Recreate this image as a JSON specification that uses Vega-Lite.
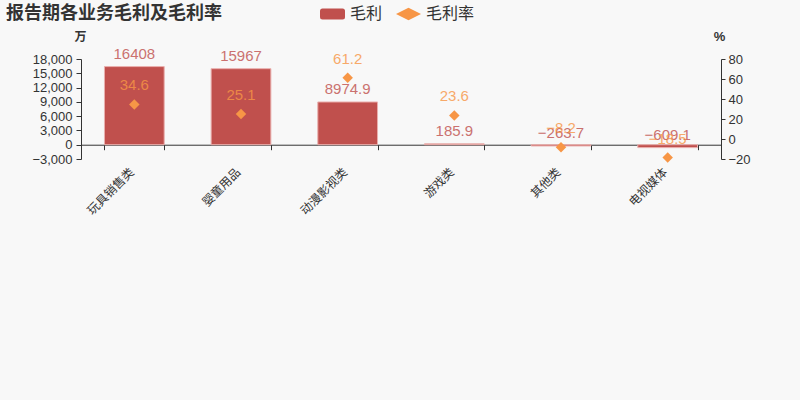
{
  "$schema": "https://vega.github.io/schema/vega-lite/v6.json",
  "autosize": "none",
  "width": 640,
  "height": 100,
  "padding": {"left": 81, "top": 59, "right": 79, "bottom": 241},
  "background": "#f8f8f8",
  "config": {
    "font": "Liberation Sans, Noto Sans CJK SC, sans-serif",
    "view": {"stroke": null}
  },
  "title": {
    "text": "报告期各业务毛利及毛利率",
    "anchor": "start",
    "dx": -26,
    "offset": -21,
    "fontSize": 18,
    "fontWeight": "bold",
    "color": "#333333"
  },
  "data": {
    "values": [
      {"业务": "玩具销售类", "毛利": 16408, "毛利率": 34.6},
      {"业务": "婴童用品", "毛利": 15967, "毛利率": 25.1},
      {"业务": "动漫影视类", "毛利": 8974.9, "毛利率": 61.2},
      {"业务": "游戏类", "毛利": 185.9, "毛利率": 23.6},
      {"业务": "其他类", "毛利": -263.7, "毛利率": -8.2},
      {"业务": "电视媒体", "毛利": -609.1, "毛利率": -18.5}
    ]
  },
  "encoding": {
    "x": {
      "field": "业务",
      "type": "nominal",
      "sort": null,
      "scale": {"paddingInner": 0.44, "paddingOuter": 0.22},
      "axis": {
        "title": null,
        "offset": -14.29,
        "labelAngle": -45,
        "labelAlign": "right",
        "labelBaseline": "middle",
        "labelFontSize": 12,
        "labelColor": "#333333",
        "labelPadding": 20,
        "labelOffset": -3,
        "domainColor": "#333333",
        "tickColor": "#333333",
        "tickSize": 5,
        "tickBand": "extent",
        "grid": false
      }
    }
  },
  "layer": [
    {
      "encoding": {
        "y": {
          "field": "毛利",
          "type": "quantitative",
          "scale": {"domain": [-3000, 18000], "nice": false, "zero": false},
          "axis": {
            "orient": "left",
            "values": [-3000, 0, 3000, 6000, 9000, 12000, 15000, 18000],
            "format": ",.0f",
            "grid": false,
            "title": "万",
            "titleAngle": 0,
            "titleX": -1,
            "titleY": -16,
            "titleAlign": "center",
            "titleBaseline": "bottom",
            "titleFontSize": 12,
            "titleFontWeight": "bold",
            "titleColor": "#333333",
            "labelFontSize": 13,
            "labelColor": "#333333",
            "labelPadding": 4,
            "domainColor": "#333333",
            "tickColor": "#333333",
            "tickSize": 5
          }
        }
      },
      "layer": [
        {
          "mark": {"type": "bar", "stroke": "#eab0ae", "strokeWidth": 1},
          "encoding": {
            "color": {
              "datum": "毛利",
              "scale": {"domain": ["毛利"], "range": ["#c0504d"]},
              "legend": {
                "title": null,
                "orient": "none",
                "legendX": 239,
                "legendY": -57.5,
                "direction": "horizontal",
                "symbolSize": 625,
                "symbolStrokeWidth": 0,
                "symbolType": "M-0.8,-0.44 L0.8,-0.44 Q1,-0.44 1,-0.24 L1,0.24 Q1,0.44 0.8,0.44 L-0.8,0.44 Q-1,0.44 -1,0.24 L-1,-0.24 Q-1,-0.44 -0.8,-0.44 Z",
                "labelFontSize": 16,
                "labelColor": "#333333",
                "labelOffset": 5,
                "padding": 0
              }
            }
          }
        },
        {
          "mark": {"type": "text", "baseline": "bottom", "dy": -5, "fontSize": 15, "color": "#c0504d", "opacity": 0.8},
          "encoding": {"text": {"field": "毛利", "type": "quantitative", "format": ".6~g"}}
        }
      ]
    },
    {
      "encoding": {
        "y": {
          "field": "毛利率",
          "type": "quantitative",
          "scale": {"domain": [-20, 80], "nice": false, "zero": false},
          "axis": {
            "orient": "right",
            "values": [-20, 0, 20, 40, 60, 80],
            "grid": false,
            "title": "%",
            "titleAngle": 0,
            "titleX": -2,
            "titleY": -16,
            "titleAlign": "center",
            "titleBaseline": "bottom",
            "titleFontSize": 13,
            "titleFontWeight": "bold",
            "titleColor": "#333333",
            "labelFontSize": 13,
            "labelColor": "#333333",
            "labelPadding": 3,
            "domainColor": "#333333",
            "tickColor": "#333333",
            "tickSize": 4
          }
        }
      },
      "layer": [
        {
          "mark": {"type": "point", "shape": "diamond", "filled": true, "size": 110, "opacity": 1},
          "encoding": {
            "fill": {
              "datum": "毛利率",
              "scale": {"domain": ["毛利率"], "range": ["#f79646"]},
              "legend": {
                "title": null,
                "orient": "none",
                "legendX": 315,
                "legendY": -57.5,
                "direction": "horizontal",
                "symbolSize": 625,
                "symbolStrokeWidth": 0,
                "symbolType": "M-1,0 L0,-0.5 L1,0 L0,0.5 Z",
                "labelFontSize": 16,
                "labelColor": "#333333",
                "labelOffset": 5,
                "padding": 0
              }
            }
          }
        },
        {
          "mark": {"type": "text", "baseline": "bottom", "dy": -11, "fontSize": 15, "color": "#f79646", "opacity": 0.8},
          "encoding": {"text": {"field": "毛利率", "type": "quantitative", "format": ".3~g"}}
        }
      ]
    }
  ],
  "resolve": {"scale": {"y": "independent"}}
}
